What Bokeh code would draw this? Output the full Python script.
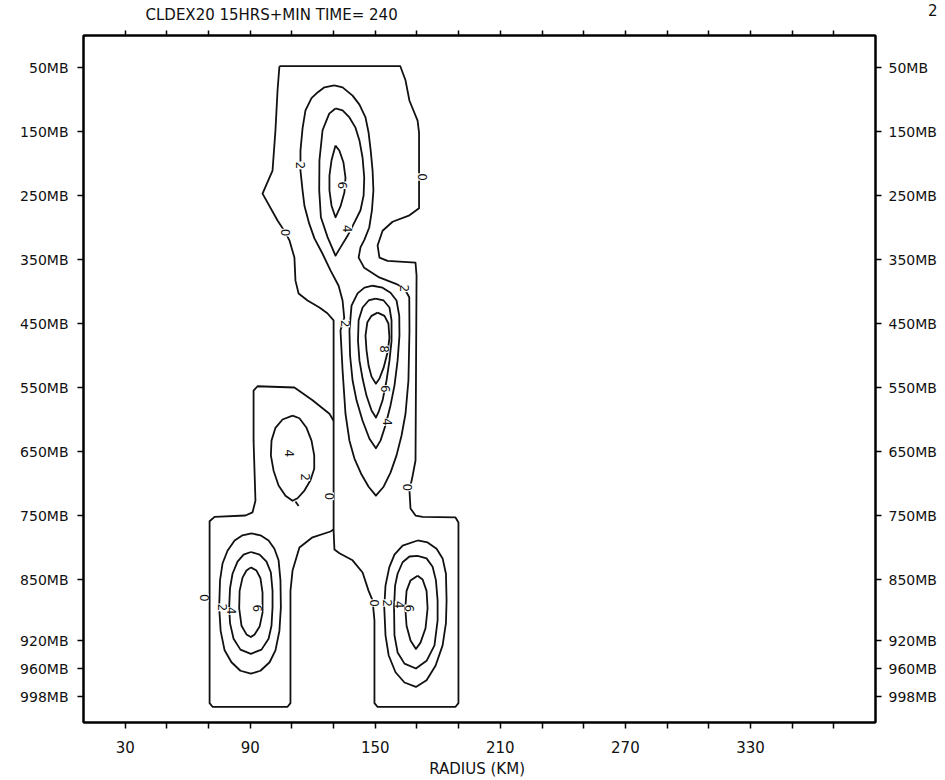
import numpy as np
from bokeh.plotting import figure
from bokeh.models import Range1d, LinearAxis, FixedTicker, ColumnDataSource, Title
from bokeh.core.properties import value
from bokeh.embed import file_html
from bokeh.resources import INLINE

TITLE = "CLDEX20 15HRS+MIN TIME= 240"
PAGE = "2"
X_LABEL = "RADIUS  (KM)"
FONT = "DejaVu Sans"

radius_ticks = list(range(30, 371, 20))
radius_labels = [30, 90, 150, 210, 270, 330]

level_mb = [50, 150, 250, 350, 450, 550, 650, 750, 850, 920, 960, 998]
level_labels = [f"{v}MB" for v in level_mb]

# vertical axis scale: piecewise linear in pressure (stretched near the ground)
scale_mb = [0, 850, 920, 960, 998, 1040]
scale_u = [0.0, 8.5, 9.453, 9.891, 10.328, 10.81]


def yscale(p):
    return np.interp(np.asarray(p, dtype=float), scale_mb, scale_u)


# ---- contour lines: radius (km) / pressure (mb) ----
# outer 0 contour: upper cloud, central column, lower-right block
c0_main_r = [104, 162, 164.5, 166.4, 170.3, 171, 171, 166.4, 158.3, 153.5, 151.1, 152.0, 155.9, 169.3, 169.8,
             169.3, 167.9, 166.4, 166.9, 169.3, 172.7, 188.5, 189.9, 189.9, 188.5, 151.1, 149.6, 149.6, 148.7,
             146.8, 143.9, 139.1, 132.8, 130.4, 130, 130, 127, 123.2, 117.5, 113.2, 111.7, 111.2, 108.8, 106.9,
             103.1, 95.9, 100.7, 102.1, 103.1, 104]
c0_main_p = [48, 48, 70, 102, 133, 152, 270, 281, 291, 305, 328, 347, 352, 355, 375, 664, 688, 711, 739, 750,
             752, 753, 761, 1007, 1012, 1012, 1007, 897, 874, 863, 839, 820, 809, 803, 773, 445, 434, 425, 414,
             403, 383, 347, 320, 308, 289, 247, 211, 148, 86, 48]
# outer 0 contour: left column
c0_left_r = [130, 128, 119.9, 111.2, 93.5, 91.6, 91.6, 92.5, 91.1, 87.7, 72.9, 70.5, 70.5, 71.9, 107.9, 109.3,
             109.3, 110.3, 113.6, 119.9, 128.5, 130]
c0_left_p = [602, 591, 570, 550, 548, 555, 633, 727, 745, 750, 752, 759, 1007, 1012, 1012, 1007, 863, 836, 800,
             784, 775, 772]
# 2 contour around the upper and middle cells
c2_up_r = [130.3, 134.3, 139.1, 142.4, 145.3, 146.8, 147.8, 148.7, 149.1, 148.4, 147.1, 144.8, 142.9, 142.0,
           144.7, 151.9, 159.9, 163.9, 166.3, 166.4, 165.9, 164.5, 162.6, 160.2, 157.3, 154.0, 150.3,
           146.8, 143.4, 140.0, 137.6, 135.7, 134.3, 133.3, 135.1, 134.3, 132.4, 128.5, 124.7, 120.8, 118.3,
           116.0, 115.1, 114.1, 114.1, 115.1, 116.5, 119.4, 122.3, 125.6, 130.3]
c2_up_p = [78, 81, 94, 108, 128, 152, 180, 211, 242, 273, 300, 319, 331, 347,
           363, 378, 388, 395, 409, 461, 539, 591, 625, 656, 683, 705, 719,
           705, 686, 661, 633, 591, 523, 461, 441, 414, 391, 367, 341, 317, 294,
           266, 242, 211, 180, 145, 117, 98, 89, 81, 78]
# upper cell
c4_up_r = [130.9, 134.3, 137.6, 140.5, 142.4, 143.9, 144.7, 144.4, 142.9, 140.0, 136.7, 133.3, 130.9, 127.1,
           123.9, 123.1, 123.2, 124.7, 127.9, 130.9]
c4_up_p = [114, 117, 128, 144, 164, 191, 222, 250, 273, 292, 313, 331, 344, 315,
           284, 242, 195, 148, 122, 114]
c6_up_r = [130.9, 132.8, 134.7, 135.7, 135.2, 133.3, 130.9, 129.0, 128.0, 128.0, 129.0, 130.9]
c6_up_p = [172, 180, 198, 222, 245, 267, 284, 266, 242, 219, 195, 172]
# middle cell
c4_mid_r = [148.7, 153.5, 157.3, 160.2, 161.5, 161.6, 160.7, 159.2, 157.3, 154.9, 152.5, 150.3, 147.2, 143.9,
            141.0, 139.1, 137.9, 137.6, 138.6, 141.5, 144.8, 148.7]
c4_mid_p = [391, 394, 402, 414, 438, 469, 508, 547, 578, 609, 633, 645, 630, 602,
            570, 539, 500, 461, 422, 403, 394, 391]
c6_mid_r = [150.1, 154.0, 156.8, 157.8, 157.8, 156.8, 155.4, 153.5, 151.5, 150.3, 148.2, 145.8, 143.9, 142.4,
            141.7, 142.0, 143.9, 146.8, 150.1]
c6_mid_p = [411, 414, 425, 445, 477, 508, 539, 570, 589, 597, 586, 563, 536, 508,
            477, 445, 425, 414, 411]
c8_mid_r = [151.1, 154.4, 156.3, 156.8, 155.9, 154.0, 152.0, 150.3, 148.2, 146.8, 145.8, 145.3, 146.2, 148.2,
            151.1]
c8_mid_p = [433, 438, 450, 472, 495, 519, 536, 544, 533, 516, 492, 469, 448, 438, 433]
# left middle cell
c2_lm_r = [110.3, 113.6, 117.0, 119.4, 120.7, 120.7, 118.9, 116.0, 112.7, 110.3, 106.9, 103.6, 101.2, 99.9,
           100.2, 102.1, 105.5, 110.3]
c2_lm_p = [594, 598, 613, 633, 656, 677, 695, 711, 723, 727, 719, 703, 680, 656,
           633, 613, 600, 594]
c2_lm_tail_r = [111.7, 113.2]
c2_lm_tail_p = [728, 735]
# lower left cell
c2_ll_r = [90.6, 94.9, 98.8, 101.6, 103.6, 104.5, 104.7, 104.0, 102.1, 99.3, 94.9, 90.3, 85.3, 81.0, 77.7,
           75.8, 75.1, 75.5, 76.7, 79.1, 82.5, 86.3, 90.6]
c2_ll_p = [778, 781, 789, 802, 820, 851, 882, 909, 934, 951, 963, 967, 963, 951, 934,
           909, 882, 851, 825, 805, 789, 781, 778]
c4_ll_r = [90.3, 94.5, 97.8, 99.9, 100.7, 100.7, 100.2, 98.8, 95.4, 90.3, 85.3, 82.0, 80.3, 79.9, 80.3, 81.5,
           83.9, 86.8, 90.3]
c4_ll_p = [807, 811, 822, 839, 863, 882, 903, 918, 933, 939, 933, 918, 900, 882, 860, 841,
           822, 811, 807]
c6_ll_r = [90.3, 93.0, 94.9, 95.9, 95.9, 94.5, 92.1, 90.3, 88.2, 85.8, 84.7, 84.9, 86.3, 88.2, 90.3]
c6_ll_p = [831, 836, 848, 865, 888, 904, 913, 916, 913, 903, 883, 863, 847, 836, 831]
# lower right cell
c2_lr_r = [170.3, 175.1, 179.4, 182.3, 183.9, 184.2, 183.9, 182.3, 178.9, 174.6, 169.5, 164.0, 159.7, 156.4,
           154.9, 154.3, 154.9, 156.7, 159.2, 163.1, 170.3]
c2_lr_p = [789, 792, 802, 817, 841, 874, 900, 927, 956, 976, 985, 979, 965, 941,
           914, 882, 857, 831, 811, 797, 789]
c4_lr_r = [170.3, 174.6, 177.5, 179.1, 179.9, 179.9, 178.4, 174.6, 169.5, 164.0, 160.7, 159.2, 159.0, 159.5,
           160.7, 163.1, 166.4, 170.3]
c4_lr_p = [813, 817, 830, 851, 874, 897, 927, 949, 960, 953, 937, 914, 882, 857,
           841, 823, 814, 813]
c6_lr_r = [170.3, 172.7, 174.6, 175.1, 174.1, 171.7, 169.5, 166.9, 165.0, 164.4, 165.0, 166.9, 170.3]
c6_lr_p = [844, 850, 863, 883, 906, 923, 932, 920, 903, 883, 863, 851, 844]

# contour labels
lab_text = ["0", "2", "6", "4", "0", "2", "2", "8", "6", "4", "0", "0", "2", "4",
            "0", "2", "4", "6", "0", "2", "4", "6"]
lab_r = [106.9, 114.1, 134.3, 136.7, 172.7, 135.7, 163.9, 154.3, 154.8, 155.9, 165.5, 128, 116.6, 108.7,
         67.9, 76.7, 81.2, 93.5, 149.5, 155.9, 161.5, 166.3]
lab_p = [308, 203, 234, 302, 221, 450, 395, 490, 552, 604, 706, 720, 690, 653,
         871, 882, 886, 883, 877, 877, 879, 883]

contours = [
    (c0_main_r, c0_main_p), (c0_left_r, c0_left_p), (c2_up_r, c2_up_p), (c4_up_r, c4_up_p),
    (c6_up_r, c6_up_p), (c4_mid_r, c4_mid_p), (c6_mid_r, c6_mid_p), (c8_mid_r, c8_mid_p),
    (c2_lm_r, c2_lm_p), (c2_lm_tail_r, c2_lm_tail_p), (c2_ll_r, c2_ll_p), (c4_ll_r, c4_ll_p),
    (c6_ll_r, c6_ll_p), (c2_lr_r, c2_lr_p), (c4_lr_r, c4_lr_p), (c6_lr_r, c6_lr_p),
]

U_BOTTOM = 10.734

p = figure(width=945, height=780, x_range=Range1d(10, 390), y_range=Range1d(U_BOTTOM, 0),
           x_axis_type=None, y_axis_type=None, output_backend="svg", toolbar_location=None,
           title=TITLE,
           min_border_left=83, min_border_right=70, min_border_top=35, min_border_bottom=58)
p.title.align = "left"
p.title.offset = 62
p.title.standoff = 7
p.title.text_font = FONT
p.title.text_font_size = "15px"
p.title.text_font_style = "normal"
p.title.text_color = "#111111"
p.grid.visible = False
p.outline_line_color = "black"
p.outline_line_width = 2
p.background_fill_color = "white"
p.border_fill_color = "white"

xs = [list(r) for r, _ in contours]
ys = [list(yscale(pp)) for _, pp in contours]
p.multi_line(xs=xs, ys=ys, line_color="#111111", line_width=1.8, line_join="round")

lab_src = ColumnDataSource(dict(x=lab_r, y=list(yscale(lab_p)), t=lab_text))
p.text(x="x", y="y", text="t", source=lab_src, angle=-np.pi / 2, text_align="center",
       text_baseline="middle", text_font=value(FONT), text_font_size="12px", text_color="#111111",
       background_fill_color="white")

lvl_pos = [round(float(v), 4) for v in yscale(level_mb)]
lvl_over = {v: lab for v, lab in zip(lvl_pos, level_labels)}
for side in ("left", "right"):
    ax = LinearAxis(ticker=FixedTicker(ticks=lvl_pos), major_label_overrides=lvl_over)
    ax.major_tick_in = 0
    ax.major_tick_out = 6
    ax.minor_tick_out = 0
    ax.major_tick_line_width = 1.5
    ax.axis_line_width = 2
    ax.major_label_standoff = 9 if side == "left" else 7
    ax.major_label_text_font = FONT
    ax.major_label_text_font_size = "14px"
    ax.major_label_text_color = "#111111"
    p.add_layout(ax, side)

x_over = {t: (str(t) if t in radius_labels else "") for t in radius_ticks}
bx = LinearAxis(ticker=FixedTicker(ticks=radius_ticks), major_label_overrides=x_over, axis_label=X_LABEL)
bx.major_tick_in = 0
bx.major_tick_out = 6
bx.minor_tick_out = 0
bx.major_tick_line_width = 1.5
bx.axis_line_width = 2
bx.major_label_standoff = 12
bx.major_label_text_font = FONT
bx.major_label_text_font_size = "15px"
bx.major_label_text_color = "#111111"
bx.axis_label_standoff = 4
bx.axis_label_text_font = FONT
bx.axis_label_text_font_size = "15px"
bx.axis_label_text_font_style = "normal"
bx.axis_label_text_color = "#111111"
p.add_layout(bx, "below")

tx = LinearAxis(ticker=FixedTicker(ticks=radius_ticks),
                major_label_overrides={t: "" for t in radius_ticks})
tx.major_tick_in = 0
tx.major_tick_out = 5
tx.minor_tick_out = 0
tx.major_tick_line_width = 1.5
tx.axis_line_width = 2
tx.major_label_standoff = 0
tx.major_label_text_font_size = "1px"
p.add_layout(tx, "above")

# page number in the top right corner, on the title line
page_title = Title(text=PAGE + "\n\u00a0", align="right", offset=-62, standoff=-53, vertical_align="middle",
                   text_line_height=2.0,
                   text_font=FONT, text_font_size="15px", text_font_style="normal", text_color="#111111")
p.add_layout(page_title, "above")

open("out.html", "w").write(file_html(p, INLINE))
